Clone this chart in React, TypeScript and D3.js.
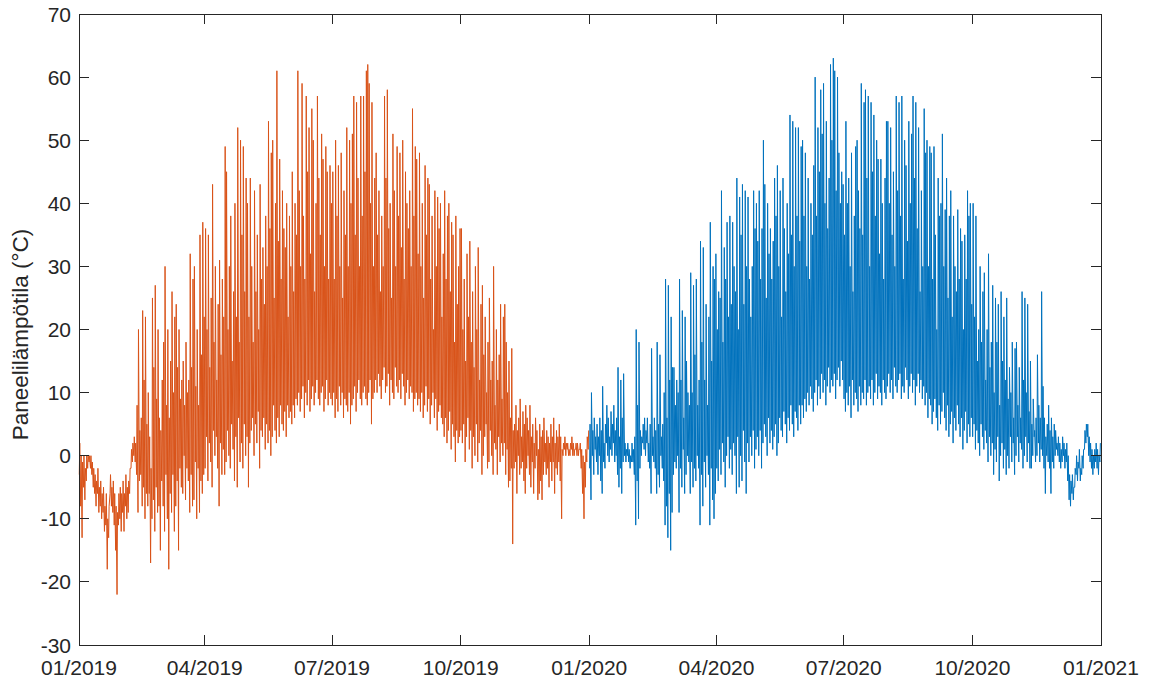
import React from "react";
import * as d3 from "d3";

// Daily maximum / minimum panel temperatures (°C), one row per month
const max2019: number[][] = [
  [2,0,-1,0,-2,0,0,0,0,-1,-2,-3,-4,-2,-5,-4,-6,-5,-8,-6,-10,-8,-3,-5,-4,-6,-8,-9,-6,-5,-6],
  [-4,-6,-3,-5,-4,-2,1,2,3,2,8,20,4,6,23,12,22,5,10,3,-2,25,14,27,9,20,6,4],
  [12,18,30,8,20,6,15,26,10,22,24,14,20,9,12,15,8,18,10,12,32,14,28,30,11,20,8,35,16,37,22],
  [36,20,35,14,25,43,18,30,12,24,31,16,28,22,49,45,20,30,38,15,26,40,22,52,18,50,35,49,26,44],
  [40,22,44,30,18,42,26,35,20,43,28,33,24,38,30,53,36,48,50,25,40,61,34,47,28,42,36,33,40,22,38],
  [30,45,26,40,35,61,42,30,59,38,28,57,45,52,32,55,50,26,40,57,44,35,51,47,30,49,45,28,46,40],
  [45,28,50,38,46,30,48,25,42,35,52,30,50,40,51,57,35,56,44,30,57,38,57,45,61,62,59,40,56,30,44],
  [48,35,42,26,38,30,57,44,58,36,40,25,51,42,30,49,38,48,33,50,28,45,40,36,42,30,55,38,49,47,32],
  [48,30,40,25,46,35,44,43,28,38,20,42,30,41,36,40,22,32,42,28,38,40,26,37,35,18,38,24,30,36],
  [36,20,28,15,32,22,34,18,26,14,30,20,33,12,24,27,16,22,10,18,25,12,15,30,8,20,12,16,24,9,22],
  [24,18,10,15,6,17,4,5,8,4,6,9,3,7,5,8,6,4,8,3,5,2,6,4,1,5,3,4,6,2],
  [4,3,2,5,3,6,2,4,3,5,3,1,2,3,2,2,1,2,3,2,1,2,2,1,2,1,0,-1,1,3,4],
];
const min2019: number[][] = [
  [-3,-8,-13,-5,-7,-4,-2,-1,-2,-3,-5,-6,-8,-6,-9,-8,-10,-9,-12,-11,-18,-13,-6,-8,-9,-11,-15,-22,-11,-10,-12],
  [-9,-12,-8,-10,-9,-6,-2,-1,0,-1,-3,-9,-4,-3,-8,-5,-10,-6,-8,-6,-17,-10,-7,-12,-5,-9,-8,-15],
  [-4,-8,-12,-3,-10,-18,-6,-9,-3,-12,-8,-4,-15,-2,-5,-6,0,-7,-2,-4,-9,-3,-8,-7,-1,-10,-2,-9,-4,-6,-3],
  [-2,3,-4,2,-1,-5,4,0,3,-2,-8,2,-3,1,-3,-1,4,0,-2,5,1,-4,3,-5,6,-1,2,-2,5,0],
  [3,-5,2,4,6,0,5,2,7,-2,4,3,6,1,5,2,4,0,3,8,4,2,6,3,8,5,4,7,3,8,6],
  [7,5,8,6,9,8,10,7,9,11,6,10,8,12,7,9,11,8,10,12,9,8,10,11,7,9,12,8,10,9],
  [8,10,6,9,7,11,8,10,6,9,8,7,10,5,8,9,11,7,10,12,9,8,10,11,9,8,10,12,5,9,10],
  [12,10,13,11,9,12,14,10,11,13,8,12,10,9,14,11,10,12,9,13,11,8,10,12,9,11,10,7,9,10,8],
  [9,7,10,6,8,11,7,9,5,8,10,6,9,4,7,8,6,5,3,6,2,4,7,1,5,3,-1,4,2,3],
  [4,2,5,-1,3,6,1,4,-2,3,0,5,-1,2,4,-3,0,3,5,-2,-1,4,0,-3,2,1,-3,3,-1,2,0],
  [2,-3,1,-5,-4,-2,-14,-2,-1,-6,0,-3,-2,-1,-4,-6,-2,0,-3,-5,-1,-6,-2,0,-7,-6,-4,-7,-3,-1],
  [-3,-2,-5,-1,-4,-1,-6,-2,-3,-1,-4,-10,0,1,0,1,0,0,1,0,0,1,0,0,1,-2,-6,-10,-5,-1,1],
];
const max2020: number[][] = [
  [5,10,4,6,3,5,3,6,4,11,2,5,8,6,3,7,5,8,4,6,14,3,12,6,13,2,1,2,1,0,2],
  [1,3,20,8,18,4,3,5,6,4,6,2,5,17,3,6,4,18,5,16,3,5,10,28,6,27,12,22,14],
  [14,8,12,10,28,12,23,6,22,15,10,8,29,10,27,16,28,8,12,34,18,33,12,24,8,22,37,15,30,28,32],
  [20,26,25,42,18,33,28,37,22,38,24,37,30,26,44,20,41,35,43,24,42,30,41,28,22,30,42,36,40,34],
  [42,28,36,50,43,25,40,32,36,28,34,44,38,46,30,42,22,44,36,26,40,32,54,35,53,30,52,38,52,34,49],
  [50,38,48,30,44,28,40,35,46,60,38,52,45,58,51,59,40,53,36,44,62,50,63,61,42,60,48,40,45,43],
  [35,53,40,44,30,48,26,38,49,50,42,36,59,35,56,58,44,57,30,56,45,54,38,50,47,32,47,40,28,44,53],
  [53,40,52,35,45,30,57,42,56,38,57,28,50,46,34,53,40,51,57,44,56,36,52,26,42,30,55,48,50,30,49],
  [48,28,49,35,20,44,38,40,51,30,39,44,25,38,42,22,38,30,26,39,28,36,34,20,35,28,42,38,40,24],
  [40,22,38,15,20,30,18,26,29,12,20,32,14,18,27,10,25,18,24,8,26,15,22,12,25,9,14,10,18,6,17],
  [18,8,14,6,26,12,25,10,24,7,15,5,9,4,6,16,8,6,26,11,6,3,5,8,4,6,3,5,4,2],
  [3,2,1,3,2,1,2,0,-3,-4,-3,-5,-2,0,-1,1,-2,0,1,4,5,5,3,2,1,0,1,2,1,0,2],
];
const min2020: number[][] = [
  [-2,-7,0,-3,1,-1,-3,0,-4,-6,-1,-2,2,0,-1,1,0,2,-1,0,-3,-5,-2,-6,-1,0,-1,0,-1,-2,-1],
  [-1,-3,-11,-4,-10,-2,0,2,1,0,2,-1,-2,-6,0,-1,-2,-6,-3,-5,0,-2,-4,-11,-8,-13,-6,-15,-9],
  [-3,-1,-2,0,-9,-2,-5,1,-6,-3,0,-1,-6,-1,-5,-2,-4,0,-2,-11,-3,-8,-1,-5,0,-3,-11,-2,-7,-10,-6],
  [-2,-4,1,-3,2,-1,-5,0,3,-2,1,-3,2,0,-6,3,-5,0,-4,4,-1,-6,2,-1,3,0,4,-2,1,3],
  [0,4,-2,2,5,3,0,6,2,4,1,3,5,0,2,6,4,3,7,5,2,6,4,8,5,3,7,6,4,8,5],
  [8,6,9,7,10,8,11,9,7,10,12,8,11,9,13,10,12,8,11,14,10,12,11,13,9,12,14,11,15,12],
  [9,7,10,8,11,6,12,8,10,9,7,11,8,10,9,12,8,10,11,9,12,8,10,13,9,11,10,8,12,10,9],
  [11,13,10,12,9,14,11,10,12,13,9,11,10,14,12,9,11,13,10,12,8,11,13,10,12,9,11,8,10,6,9],
  [8,5,7,9,6,4,8,5,7,10,6,4,8,3,5,7,2,6,4,8,5,3,6,1,4,7,2,5,3,6],
  [3,5,1,4,2,0,5,3,1,4,2,-1,3,0,2,-3,1,-1,3,-4,0,2,-2,1,-3,0,-2,3,-1,2,-3],
  [0,3,-1,2,1,-2,0,3,-1,2,-2,-2,0,3,-1,0,2,-1,1,0,-2,-6,0,-1,-2,-6,-1,-2,0,1],
  [0,-1,-2,-1,0,-2,-1,-4,-7,-8,-6,-7,-5,-3,-4,-2,-4,-3,-2,1,2,3,0,-1,-2,-3,-2,-1,-2,-3,-1],
];

const yTicks = [-30, -20, -10, 0, 10, 20, 30, 40, 50, 60, 70];
const xTickDates = [
  [2019, 0], [2019, 3], [2019, 6], [2019, 9],
  [2020, 0], [2020, 3], [2020, 6], [2020, 9], [2021, 0],
];
const yLabel = "Paneelilämpötila (°C)";

const W = 1150, H = 681;
const L = 79, R = 1101, T = 14, B = 645;
const INK = "#262626";

type Pt = { t: number; v: number };

function buildSeries(year: number, maxs: number[][], mins: number[][]): Pt[] {
  const pts: Pt[] = [];
  maxs.forEach((month, m) => {
    month.forEach((mx, i) => {
      const day = Date.UTC(year, m, i + 1);
      pts.push({ t: day + 5 * 3600e3, v: mins[m][i] });
      pts.push({ t: day + 13 * 3600e3, v: mx });
    });
  });
  return pts;
}

export default function App() {
  const x = d3.scaleUtc().domain([Date.UTC(2019, 0, 1), Date.UTC(2021, 0, 1)]).range([L, R]);
  const y = d3.scaleLinear().domain([-30, 70]).range([B, T]);
  const line = d3.line<Pt>().x(d => x(d.t)).y(d => y(d.v));
  const s2019 = buildSeries(2019, max2019, min2019);
  const s2020 = buildSeries(2020, max2020, min2020);
  const fmt = d3.utcFormat("%m/%Y");
  const font = "'Liberation Sans', Arial, Helvetica, sans-serif";

  return (
    <div style={{ position: "fixed", left: 0, top: 0 }}>
      <svg width={W} height={H} style={{ display: "block", background: "#fff" }}>
        <path d={line(s2019) || ""} fill="none" stroke="#D95319" strokeWidth={1} strokeLinejoin="round" />
        <path d={line(s2020) || ""} fill="none" stroke="#0072BD" strokeWidth={1} strokeLinejoin="round" />
        <g shapeRendering="crispEdges" stroke={INK} strokeWidth={1}>
          <rect x={L} y={T} width={R - L} height={B - T} fill="none" />
          {yTicks.map(v => (
            <g key={"y" + v}>
              <line x1={L} x2={L + 10} y1={y(v)} y2={y(v)} />
              <line x1={R - 10} x2={R} y1={y(v)} y2={y(v)} />
            </g>
          ))}
          {xTickDates.map(([yr, mo]) => {
            const xx = x(Date.UTC(yr, mo, 1));
            return (
              <g key={"x" + yr + mo}>
                <line x1={xx} x2={xx} y1={B} y2={B - 10} />
                <line x1={xx} x2={xx} y1={T} y2={T + 10} />
              </g>
            );
          })}
        </g>
        <g fontFamily={font} fontSize={21} fill={INK}>
          {yTicks.map(v => (
            <text key={"yl" + v} x={L - 8} y={y(v) + 7.5} textAnchor="end">{v}</text>
          ))}
          {xTickDates.map(([yr, mo]) => (
            <text key={"xl" + yr + mo} x={x(Date.UTC(yr, mo, 1))} y={675} textAnchor="middle">
              {fmt(new Date(Date.UTC(yr, mo, 1)))}
            </text>
          ))}
        </g>
        <text
          transform={`translate(28, ${(T + B) / 2 + 5}) rotate(-90)`}
          textAnchor="middle"
          fontFamily={font}
          fontSize={22.5}
          fill={INK}
        >
          {yLabel}
        </text>
      </svg>
    </div>
  );
}
